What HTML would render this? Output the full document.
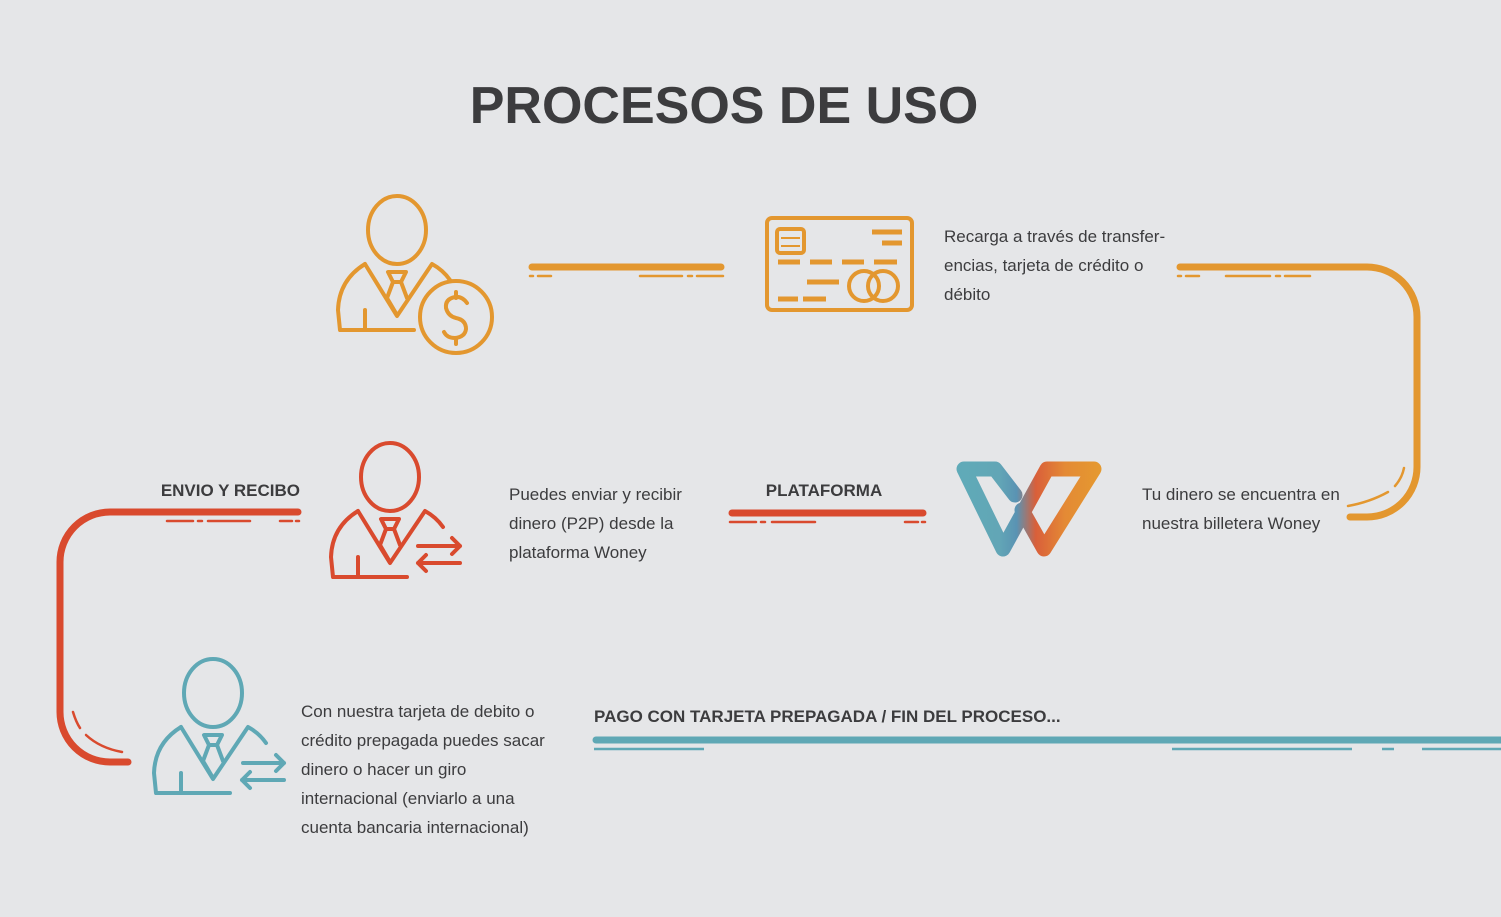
<!DOCTYPE html>
<html><head><meta charset="utf-8"><style>
body{margin:0;background:#e5e6e8;}
svg{display:block}
text{font-family:"Liberation Sans",sans-serif;}
</style></head><body>
<svg width="1501" height="917" viewBox="0 0 1501 917" xmlns="http://www.w3.org/2000/svg">
<defs>
<g id="person" fill="none" stroke-width="4" stroke-linejoin="round" stroke-linecap="round">
<ellipse cx="0" cy="0" rx="29" ry="34"/>
<path d="M-32,34 L0,86 L35,34 Q46,40 53,50"/>
<path d="M-32,34 Q-58,50 -59,80 L-57,100 L17,100"/>
<path d="M-32,80 L-32,100"/>
<path d="M-9,42 L9,42 L4,52 L-4,52 Z M-4,52 L-10,68 L0,85 M4,52 L10,68"/>
</g>
<linearGradient id="wg" gradientUnits="userSpaceOnUse" x1="955" y1="0" x2="1102" y2="0">
<stop offset="0" stop-color="#5fabb8"/><stop offset="0.3" stop-color="#62a6b6"/><stop offset="0.42" stop-color="#5a93b3"/><stop offset="0.55" stop-color="#d95f3a"/><stop offset="0.75" stop-color="#e48a35"/><stop offset="1" stop-color="#e59a2f"/>
</linearGradient>
</defs>
<rect width="1501" height="917" fill="#e5e6e8"/>
<text x="724" y="123" text-anchor="middle" font-size="52" font-weight="bold" fill="#3c3c3e">PROCESOS DE USO</text>

<g stroke="#e3972f"><use href="#person" x="397" y="230"/></g>
<circle cx="456" cy="317" r="36" fill="#e5e6e8" stroke="#e3972f" stroke-width="4"/>
<path d="M467,303 Q462,296 455,297 Q445,299 446,308 Q448,316 456,318 Q466,320 466,329 Q465,337 455,338 Q447,338 444,332 M456,292 L456,298 M456,338 L456,344" fill="none" stroke="#e3972f" stroke-width="4" stroke-linecap="round"/>

<g fill="none" stroke="#e3972f" stroke-width="4">
<rect x="767" y="218" width="145" height="92" rx="5"/>
<rect x="777" y="229" width="27" height="24" rx="3"/>
<circle cx="864" cy="286" r="15"/><circle cx="883" cy="286" r="15"/>
</g>
<g stroke="#e3972f" stroke-width="5">
<path d="M872,232 H902 M882,243 H902 M778,262 H800 M810,262 H832 M842,262 H864 M874,262 H897 M807,282 H839 M778,299 H798 M803,299 H826"/>
<path d="M781,238 H800 M781,246 H800" stroke-width="2"/>
</g>

<g stroke="#e3972f" fill="none" stroke-linecap="round">
<path d="M532,267 H721" stroke-width="7"/>
<path d="M530,276 H533 M538,276 H551 M640,276 H682 M688,276 H692 M697,276 H723" stroke-width="2.5"/>
<path d="M1180,267 H1367 A50,50 0 0 1 1417,317 V467 A50,50 0 0 1 1367,517 H1350" stroke-width="7"/>
<path d="M1178,276 H1181 M1186,276 H1199 M1226,276 H1270 M1276,276 H1280 M1285,276 H1310" stroke-width="2.5"/>
<path d="M1404,468 Q1402,478 1395,486 M1388,492 Q1370,502 1348,506" stroke-width="2.5"/>
</g>
<text font-size="17" fill="#3c3c3e"><tspan x="944" y="242">Recarga a través de transfer-</tspan><tspan x="944" y="271">encias, tarjeta de crédito o</tspan><tspan x="944" y="300">débito</tspan></text>

<path d="M1015,495 L995,469 L964,469 L1003,549 L1047,469 L1094,469 L1044,549 L1022,510" fill="none" stroke="url(#wg)" stroke-width="15" stroke-linejoin="round" stroke-linecap="round"/>
<text font-size="17" fill="#3c3c3e"><tspan x="1142" y="500">Tu dinero se encuentra en</tspan><tspan x="1142" y="529">nuestra billetera Woney</tspan></text>

<text x="824" y="496" text-anchor="middle" font-size="17" font-weight="bold" fill="#3c3c3e">PLATAFORMA</text>
<g stroke="#d94a2e" fill="none" stroke-linecap="round">
<path d="M732,513 H923" stroke-width="7"/>
<path d="M730,522 H756 M761,522 H765 M772,522 H815 M905,522 H918 M922,522 H925" stroke-width="2.5"/>
<path d="M298,512 H110 A50,50 0 0 0 60,562 V712 A50,50 0 0 0 110,762 H128" stroke-width="7"/>
<path d="M167,521 H193 M198,521 H202 M208,521 H250 M280,521 H292 M296,521 H299" stroke-width="2.5"/>
<path d="M73,712 Q76,722 80,728 M86,735 Q100,748 122,752" stroke-width="2.5"/>
</g>
<text x="300" y="496" text-anchor="end" font-size="17" font-weight="bold" fill="#3c3c3e">ENVIO Y RECIBO</text>
<g stroke="#d94a2e"><use href="#person" x="390" y="477"/></g>
<g stroke="#d94a2e" stroke-width="4" fill="none" stroke-linecap="round" stroke-linejoin="round">
<path d="M418,546 H460 M452,538 L460,546 L452,554 M460,563 H418 M426,555 L418,563 L426,571"/>
</g>
<text font-size="17" fill="#3c3c3e"><tspan x="509" y="500">Puedes enviar y recibir</tspan><tspan x="509" y="529">dinero (P2P) desde la</tspan><tspan x="509" y="558">plataforma Woney</tspan></text>

<g stroke="#5fa8b5"><use href="#person" x="213" y="693"/></g>
<g stroke="#5fa8b5" stroke-width="4" fill="none" stroke-linecap="round" stroke-linejoin="round">
<path d="M243,763 H284 M276,755 L284,763 L276,771 M284,780 H242 M250,772 L242,780 L250,788"/>
</g>
<text font-size="17" fill="#3c3c3e"><tspan x="301" y="717">Con nuestra tarjeta de debito o</tspan><tspan x="301" y="746">crédito prepagada puedes sacar</tspan><tspan x="301" y="775">dinero o hacer un giro</tspan><tspan x="301" y="804">internacional (enviarlo a una</tspan><tspan x="301" y="833">cuenta bancaria internacional)</tspan></text>
<text x="594" y="722" font-size="17" font-weight="bold" fill="#3c3c3e">PAGO CON TARJETA PREPAGADA / FIN DEL PROCESO...</text>
<g stroke="#5fa8b5" fill="none">
<path d="M596,740 H1501" stroke-width="7" stroke-linecap="round"/>
<path d="M594,749 H704 M1172,749 H1352 M1382,749 H1394 M1422,749 H1501" stroke-width="2.5"/>
</g>
</svg>
</body></html>
